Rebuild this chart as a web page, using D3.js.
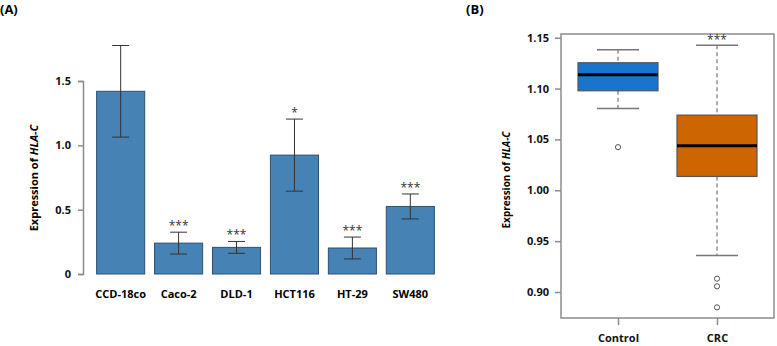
<!DOCTYPE html>
<html>
<head>
<meta charset="utf-8">
<script src="https://cdn.jsdelivr.net/npm/d3@7"></script>
<style>
  body { margin: 0; background: #fff; }
  text { font-family: "Open Sans", "DejaVu Sans", sans-serif; }
</style>
</head>
<body>
<div id="chart"></div>
<script>
// ---- data: panel A (bar chart) ----
const cellLines = ["CCD-18co", "Caco-2", "DLD-1", "HCT116", "HT-29", "SW480"];
const meanExpr  = [1.42, 0.24, 0.207, 0.924, 0.202, 0.525];
const errExpr   = [0.356, 0.085, 0.046, 0.28, 0.085, 0.097];
const signifA   = ["", "***", "***", "*", "***", "***"];
const ticksA    = [0, 0.5, 1.0, 1.5];

// ---- data: panel B (box plot) ----
const groups      = ["Control", "CRC"];
const whiskerLow  = [1.0805, 0.9358];
const q1          = [1.0978, 1.0136];
const median      = [1.1136, 1.0437];
const q3          = [1.1254, 1.0739];
const whiskerHigh = [1.1382, 1.1425];
const outliers    = [[1.0424], [0.9131, 0.9056, 0.8849]];
const signifB     = ["", "***"];
const ticksB      = [0.90, 0.95, 1.00, 1.05, 1.10, 1.15];

const W = 777, H = 346;
const svg = d3.select("#chart").append("svg")
    .attr("width", W)
    .attr("height", H);

// panel letters
svg.append("text").attr("x", 0).attr("y", 14)
    .attr("font-size", "13px").attr("font-weight", "bold").text("(A)");
svg.append("text").attr("x", 466).attr("y", 14)
    .attr("font-size", "13px").attr("font-weight", "bold").text("(B)");

/* * * * * * * * * * * *
*      Panel A bars     *
* * * * * * * * * * * */
const barData = cellLines.map((c, i) => ({name: c, mean: meanExpr[i], err: errExpr[i], sig: signifA[i]}));

const xA = d3.scaleBand()
    .domain(cellLines)
    .range([92, 439])
    .paddingInner(0.17)
    .paddingOuter(0.08);

const yA = d3.scaleLinear()
    .domain([0, 1.5])
    .range([274, 81]);

const gA = svg.append("g");

// y axis
const yAxisA = d3.axisLeft(yA)
    .tickValues(ticksA)
    .tickSize(5)
    .tickPadding(7)
    .tickFormat(d => d === 0 ? "0" : d3.format(".1f")(d));

gA.append("g")
    .attr("transform", "translate(83,0)")
    .call(yAxisA)
    .call(g => g.select(".domain").attr("stroke", "#8c8c8c").attr("stroke-width", 1.5))
    .call(g => g.selectAll(".tick line").attr("stroke", "#8c8c8c").attr("stroke-width", 1.5))
    .call(g => g.selectAll(".tick text")
        .attr("font-size", "11px").attr("font-weight", "bold").attr("fill", "#111")
        .attr("font-family", "'Open Sans', sans-serif"));

// y label
const labA = gA.append("text")
    .attr("transform", "translate(38,178) rotate(-90)")
    .attr("text-anchor", "middle")
    .attr("font-size", "11px")
    .attr("font-weight", "bold");
labA.append("tspan").text("Expression of ");
labA.append("tspan").attr("font-style", "italic").text("HLA-C");

// bars
gA.selectAll(".bar")
    .data(barData)
    .enter().append("rect")
    .attr("class", "bar")
    .attr("x", d => xA(d.name))
    .attr("y", d => yA(d.mean))
    .attr("width", xA.bandwidth())
    .attr("height", d => yA(0) - yA(d.mean))
    .attr("fill", "#4682b4")
    .attr("stroke", "#2f4f6f")
    .attr("stroke-width", 1);

// error bars
const eb = gA.selectAll(".err")
    .data(barData)
    .enter().append("g")
    .attr("class", "err")
    .attr("stroke", "#333")
    .attr("stroke-width", 1);

eb.append("line")
    .attr("x1", d => xA(d.name) + xA.bandwidth() / 2)
    .attr("x2", d => xA(d.name) + xA.bandwidth() / 2)
    .attr("y1", d => yA(d.mean - d.err))
    .attr("y2", d => yA(d.mean + d.err));
[-1, 1].forEach(s => {
    eb.append("line")
        .attr("x1", d => xA(d.name) + xA.bandwidth() / 2 - 8.5)
        .attr("x2", d => xA(d.name) + xA.bandwidth() / 2 + 8.5)
        .attr("y1", d => yA(d.mean + s * d.err))
        .attr("y2", d => yA(d.mean + s * d.err));
});

// significance stars
gA.selectAll(".sig")
    .data(barData)
    .enter().append("text")
    .attr("class", "sig")
    .attr("x", d => xA(d.name) + xA.bandwidth() / 2)
    .attr("y", d => yA(d.mean + d.err) - 2)
    .attr("text-anchor", "middle")
    .attr("font-size", "12px")
    .attr("fill", "#333")
    .text(d => d.sig);

// category labels
gA.selectAll(".cat")
    .data(barData)
    .enter().append("text")
    .attr("class", "cat")
    .attr("x", d => xA(d.name) + xA.bandwidth() / 2)
    .attr("y", 298)
    .attr("text-anchor", "middle")
    .attr("font-size", "11px")
    .attr("font-weight", "bold")
    .text(d => d.name);

/* * * * * * * * * * * *
*      Panel B boxes    *
* * * * * * * * * * * */
const boxData = groups.map((g, i) => ({
    name: g, lo: whiskerLow[i], q1: q1[i], med: median[i], q3: q3[i], hi: whiskerHigh[i],
    out: outliers[i], sig: signifB[i]
}));

const frame = {x0: 561, x1: 774, y0: 34, y1: 318};

const xB = d3.scalePoint()
    .domain(groups)
    .range([618, 717]);

const yB = d3.scaleLinear()
    .domain([0.90, 1.15])
    .range([292, 37.7]);

const gB = svg.append("g");

// frame
gB.append("rect")
    .attr("x", frame.x0).attr("y", frame.y0)
    .attr("width", frame.x1 - frame.x0).attr("height", frame.y1 - frame.y0)
    .attr("fill", "none").attr("stroke", "#8c8c8c").attr("stroke-width", 1.5);

// y axis (ticks only)
gB.append("g")
    .attr("transform", `translate(${frame.x0},0)`)
    .call(d3.axisLeft(yB).tickValues(ticksB).tickSize(6).tickPadding(6).tickFormat(d3.format(".2f")))
    .call(g => g.select(".domain").remove())
    .call(g => g.selectAll(".tick line").attr("stroke", "#8c8c8c").attr("stroke-width", 1.5))
    .call(g => g.selectAll(".tick text")
        .attr("font-size", "11px").attr("font-weight", "bold").attr("fill", "#111")
        .attr("font-family", "'Open Sans', sans-serif"));

// x axis (ticks only)
gB.append("g")
    .attr("transform", `translate(0,${frame.y1})`)
    .call(d3.axisBottom(xB).tickSize(7).tickPadding(9))
    .call(g => g.select(".domain").remove())
    .call(g => g.selectAll(".tick line").attr("stroke", "#8c8c8c").attr("stroke-width", 1.5))
    .call(g => g.selectAll(".tick text")
        .attr("font-size", "11px").attr("font-weight", "bold").attr("fill", "#111")
        .attr("font-family", "'Open Sans', sans-serif"));

// y label
const labB = gB.append("text")
    .attr("transform", "translate(510,180) rotate(-90)")
    .attr("text-anchor", "middle")
    .attr("font-size", "10px")
    .attr("font-weight", "bold");
labB.append("tspan").text("Expression of ");
labB.append("tspan").attr("font-style", "italic").text("HLA-C");

const boxW = 80, capW = 42;
const boxColors = d3.scaleOrdinal().domain(groups).range(["#1874cd", "#cd6600"]);

const bx = gB.selectAll(".box")
    .data(boxData)
    .enter().append("g")
    .attr("class", "box");

// whiskers (dashed)
bx.append("line")
    .attr("x1", d => xB(d.name)).attr("x2", d => xB(d.name))
    .attr("y1", d => yB(d.hi)).attr("y2", d => yB(d.q3))
    .attr("stroke", "#777").attr("stroke-width", 1.2).attr("stroke-dasharray", "4,3");
bx.append("line")
    .attr("x1", d => xB(d.name)).attr("x2", d => xB(d.name))
    .attr("y1", d => yB(d.q1)).attr("y2", d => yB(d.lo))
    .attr("stroke", "#777").attr("stroke-width", 1.2).attr("stroke-dasharray", "4,3");

// whisker caps
["hi", "lo"].forEach(k => {
    bx.append("line")
        .attr("x1", d => xB(d.name) - capW / 2).attr("x2", d => xB(d.name) + capW / 2)
        .attr("y1", d => yB(d[k])).attr("y2", d => yB(d[k]))
        .attr("stroke", "#777").attr("stroke-width", 1.5);
});

// boxes
bx.append("rect")
    .attr("x", d => xB(d.name) - boxW / 2)
    .attr("y", d => yB(d.q3))
    .attr("width", boxW)
    .attr("height", d => yB(d.q1) - yB(d.q3))
    .attr("fill", d => boxColors(d.name))
    .attr("stroke", "#555").attr("stroke-width", 1.2);

// medians
bx.append("line")
    .attr("x1", d => xB(d.name) - boxW / 2).attr("x2", d => xB(d.name) + boxW / 2)
    .attr("y1", d => yB(d.med)).attr("y2", d => yB(d.med))
    .attr("stroke", "#000").attr("stroke-width", 3);

// outliers
bx.selectAll(".out")
    .data(d => d.out.map(v => ({name: d.name, v: v})))
    .enter().append("circle")
    .attr("class", "out")
    .attr("cx", d => xB(d.name))
    .attr("cy", d => yB(d.v))
    .attr("r", 2.6)
    .attr("fill", "#fff")
    .attr("stroke", "#555").attr("stroke-width", 1);

// stars
bx.append("text")
    .attr("x", d => xB(d.name))
    .attr("y", d => yB(d.hi) - 1)
    .attr("text-anchor", "middle")
    .attr("font-size", "12px")
    .attr("fill", "#333")
    .text(d => d.sig);
</script>
</body>
</html>
